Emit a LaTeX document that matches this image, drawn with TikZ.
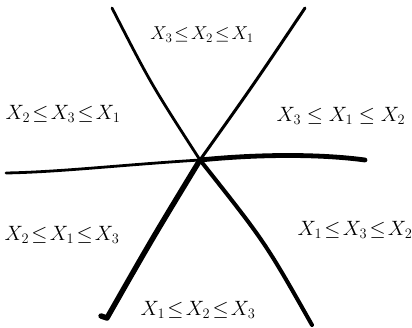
\documentclass[tikz,border=0pt]{standalone}
\usepackage{amsmath,amssymb}
\usepackage{tikz}
\usetikzlibrary{positioning}
\tikzset{
  order/.style={font=\fontsize{#1}{#1}\selectfont, inner sep=0pt},
  order/.default=20,
  wall/.style={line width=#1, line cap=round, line join=round, black},
}
\newcommand{\tle}{\mathrel{\!\leq\!}}

\begin{document}
\begin{tikzpicture}[x=1pt, y=-1pt]
  \useasboundingbox (0,0) rectangle (412,328);
  % crossing point and line ends
  \coordinate (o) at (200,160);
  \coordinate (aTop) at (112,8);
  \coordinate (aBot) at (312,325);
  \coordinate (bTop) at (305,8);
  \coordinate (bBot) at (107,318);
  \coordinate (hL) at (6,173);
  \coordinate (hR) at (365,160);
  % the three lines
  \draw[wall=2.8pt] (aTop) .. controls (151,84) .. (o);
  \draw[wall=4pt] (o) .. controls (265,242) .. (aBot);
  \draw[wall=3pt] (bTop) .. controls (254,84) .. (o);
  \draw[wall=5.4pt] (o) .. controls (152,239) .. (bBot) -- (101,316);
  \draw[wall=2.8pt] (hL) .. controls (60,172) and (120,165) .. (o);
  \draw[wall=4.8pt] (o) .. controls (260,154) and (320,154) .. (hR);
  % regions
  \node[order, scale=0.9] (top) at (202,35) {$X_3\tle X_2\tle X_1$};
  \node[order=21] (upL) at (63,114) {$X_2\tle X_3\tle X_1$};
  \node[order=22] (upR) at (341,116) {$X_3\leq X_1\leq X_2$};
  \node[order] (loL) at (62,235) {$X_2\tle X_1\tle X_3$};
  \node[order] (loR) at (355,230) {$X_1\tle X_3\tle X_2$};
  \node[order] (bot) at (198,310) {$X_1\tle X_2\tle X_3$};
\end{tikzpicture}
\end{document}
